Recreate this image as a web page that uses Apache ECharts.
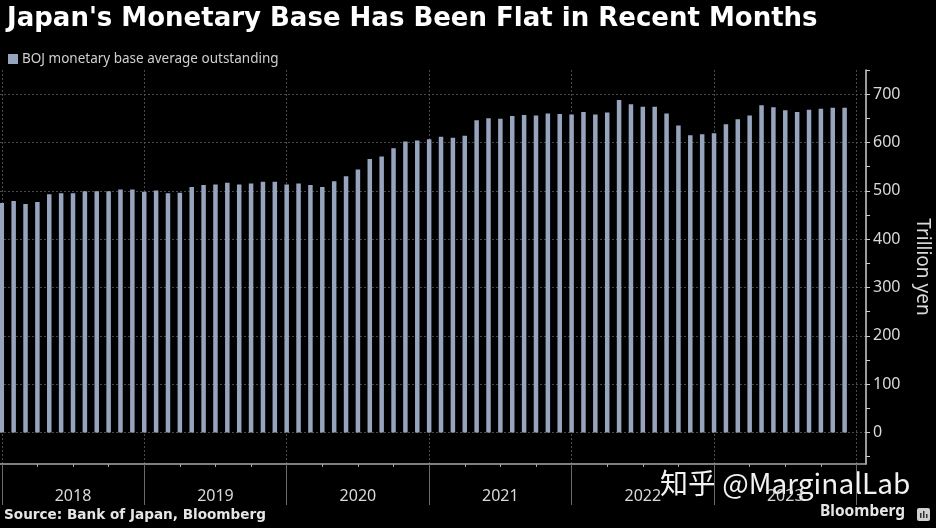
<!DOCTYPE html>
<html>
<head>
<meta charset="utf-8">
<script src="https://cdn.jsdelivr.net/npm/echarts@6/dist/echarts.min.js"></script>
<style>
  html, body { margin: 0; padding: 0; background: #000; }
  #chart { width: 936px; height: 528px; }
</style>
</head>
<body>
<div id="chart"></div>
<script>
// ---- data ----
var years = ['2018', '2019', '2020', '2021', '2022', '2023'];
var monthNames = ['Jan','Feb','Mar','Apr','May','Jun','Jul','Aug','Sep','Oct','Nov','Dec'];
var values2018 = [475, 479, 473, 477, 493, 495, 495, 499, 499, 499, 503, 503];
var values2019 = [498, 501, 495, 496, 508, 512, 513, 517, 513, 515, 519, 519];
var values2020 = [513, 515, 512, 508, 520, 530, 544, 566, 571, 588, 602, 604];
var values2021 = [607, 612, 610, 614, 646, 650, 649, 655, 657, 656, 660, 659];
var values2022 = [658, 663, 658, 662, 688, 679, 674, 674, 660, 635, 615, 617];
var values2023 = [619, 638, 648, 656, 677, 673, 667, 663, 668, 670, 672, 672];
var yTickLabels = [0, 100, 200, 300, 400, 500, 600, 700];
var seriesName = 'BOJ monetary base average outstanding';

// ---- build ----
var allValues = [].concat(values2018, values2019, values2020, values2021, values2022, values2023);
var categories = [];
years.forEach(function (y) { monthNames.forEach(function (m) { categories.push(m + ' ' + y); }); });
var barData = allValues.map(function (v, i) { return { value: [i, v], name: categories[i] }; });

var yearBoundaries = [];
var yearCenters = [];
var quarterTicks = [];
for (var k = 0; k <= years.length; k++) yearBoundaries.push(k * 12);
for (var k2 = 0; k2 < years.length; k2++) yearCenters.push(k2 * 12 + 6);
for (var q = 0; q <= years.length * 4; q++) quarterTicks.push(q * 3);
var yMinorTicks = [];
for (var t = -50; t <= 750; t += 50) yMinorTicks.push(t);

var xMin = -0.15, xMax = 72.8, yMin = -65, yMax = 750;
var gridColor = '#4a4a4a';
var textColor = '#d9d9d9';
var font = 'Noto Sans';

var chart = echarts.init(document.getElementById('chart'), null, { renderer: 'canvas' });
chart.setOption({
  backgroundColor: '#000',
  animation: false,
  textStyle: { fontFamily: font },
  title: {
    text: "Japan's Monetary Base Has Been Flat in Recent Months",
    left: 2, top: 1,
    textStyle: { color: '#ffffff', fontSize: 26, fontWeight: 'bold', fontFamily: 'DejaVu Sans' }
  },
  legend: {
    left: 3, top: 47,
    icon: 'rect', itemWidth: 10, itemHeight: 10, itemGap: 10,
    textStyle: { color: '#cfcfcf', fontSize: 13.5, fontFamily: font, padding: [0, 0, 0, -1] },
    data: [seriesName]
  },
  grid: { left: 0, right: 70, top: 70, bottom: 64, containLabel: false, outerBoundsMode: 'none' },
  xAxis: [
    {
      type: 'value', min: xMin, max: xMax, position: 'bottom',
      axisLine: { show: true, onZero: false, lineStyle: { color: '#a8a8a8', width: 1.5 } },
      axisTick: { show: true, customValues: quarterTicks, length: 3, lineStyle: { color: '#a8a8a8' } },
      axisLabel: {
        show: true, customValues: yearCenters, margin: 24,
        color: textColor, fontSize: 16, fontFamily: font,
        formatter: function (v) { return years[Math.round((v - 6) / 12)]; }
      },
      splitLine: { show: false }
    },
    {
      type: 'value', min: xMin, max: xMax, position: 'bottom',
      axisLine: { show: false, onZero: false },
      axisTick: { show: true, customValues: yearBoundaries, length: 41, lineStyle: { color: '#6a6a6a' } },
      axisLabel: { show: false },
      splitLine: { show: true, lineStyle: { color: gridColor, type: [2, 2], width: 1 } }
    }
  ],
  yAxis: [
    {
      type: 'value', min: yMin, max: yMax, position: 'right',
      name: 'Trillion yen', nameLocation: 'middle', nameGap: 47, nameRotate: -90,
      nameTextStyle: { color: textColor, fontSize: 19, fontFamily: font },
      axisLine: { show: true, onZero: false, lineStyle: { color: '#cfcfcf', width: 1.5 } },
      axisTick: { show: true, customValues: yMinorTicks, length: 4, lineStyle: { color: '#cfcfcf' } },
      axisLabel: { show: true, customValues: yTickLabels, margin: 7, color: textColor, fontSize: 16, fontFamily: font },
      splitLine: { show: false }
    },
    {
      type: 'value', min: yMin, max: yMax, position: 'right',
      axisLine: { show: false, onZero: false },
      axisTick: { show: false, customValues: yTickLabels },
      axisLabel: { show: false },
      splitLine: { show: true, lineStyle: { color: gridColor, type: [2, 2], width: 1 } }
    }
  ],
  series: [
    {
      name: seriesName, type: 'bar', xAxisIndex: 0, yAxisIndex: 0,
      barWidth: 4.5,
      itemStyle: { color: '#97a4be' },
      data: barData
    }
  ],
  graphic: [
    {
      type: 'text', left: 4, top: 508,
      style: { text: 'Source: Bank of Japan, Bloomberg', fill: '#e6e6e6', font: 'bold 13.6px "DejaVu Sans"' }
    },
    {
      type: 'text', left: 820, top: 504,
      style: { text: 'Bloomberg', fill: '#e6e6e6', font: 'bold 15.5px "Noto Sans"' }
    },
    {
      type: 'group', left: 917, top: 508,
      children: [
        { type: 'rect', shape: { x: 0, y: 0, width: 13, height: 13, r: 2 }, style: { fill: '#d0d0d0' } },
        { type: 'rect', shape: { x: 3, y: 5, width: 1.5, height: 5 }, style: { fill: '#333' } },
        { type: 'rect', shape: { x: 6, y: 3, width: 1.5, height: 7 }, style: { fill: '#333' } },
        { type: 'rect', shape: { x: 9, y: 6, width: 1.5, height: 4 }, style: { fill: '#333' } }
      ]
    },
    {
      type: 'text', left: 660, top: 469,
      style: { text: '知乎 @MarginalLab', fill: '#f2f2f2', font: '28px "Noto Sans CJK SC"' }
    }
  ]
});
</script>
</body>
</html>
